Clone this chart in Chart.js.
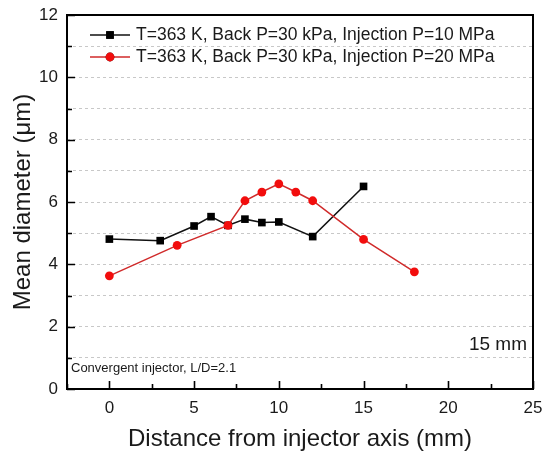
<!DOCTYPE html>
<html>
<head>
<meta charset="utf-8">
<script src="https://cdn.jsdelivr.net/npm/chart.js@4.4.1/dist/chart.umd.min.js"></script>
<style>
  html, body { margin: 0; padding: 0; background: #fff; }
  #wrap { width: 544px; height: 461px; position: relative; }
</style>
</head>
<body>
<div id="wrap"><canvas id="diameterChart"></canvas></div>
<script>
const seriesLabels = [
    'T=363 K, Back P=30 kPa, Injection P=10 MPa',
    'T=363 K, Back P=30 kPa, Injection P=20 MPa'
];
const distance10 = [0, 3, 5, 6, 7, 8, 9, 10, 12, 15];
const diameter10 = [4.81, 4.76, 5.23, 5.53, 5.25, 5.45, 5.34, 5.36, 4.89, 6.50];
const distance20 = [0, 4, 7, 8, 9, 10, 11, 12, 15, 18];
const diameter20 = [3.63, 4.61, 5.25, 6.04, 6.32, 6.58, 6.32, 6.04, 4.80, 3.76];
const xTickLabels = [0, 5, 10, 15, 20, 25];
const yTickLabels = [0, 2, 4, 6, 8, 10, 12];
const noteText = 'Convergent injector, L/D=2.1';
const cornerText = '15 mm';

const FONT = '"Liberation Sans", Arial, sans-serif';
const INK = '#1a1a1a';

function toPoints(xs, ys) {
    return xs.map((x, i) => ({ x: x, y: ys[i] }));
}

// no extra room for overflowing tick labels, the layout padding covers it
function noLabelPadding(s) {
    s.paddingLeft = 0;
    s.paddingRight = 0;
    s.paddingTop = 0;
    s.paddingBottom = 0;
}

// frame, inward ticks, legend and the two notes
const decorations = {
    id: 'decorations',
    afterDraw(chart) {
        const { ctx, chartArea: a } = chart;
        const xs = chart.scales.x, ys = chart.scales.y;
        ctx.save();
        ctx.strokeStyle = '#000';
        ctx.lineWidth = 2;
        ctx.strokeRect(a.left, a.top, a.right - a.left, a.bottom - a.top);

        ctx.lineWidth = 1.6;
        ctx.beginPath();
        for (let v = xs.min; v <= xs.max + 1e-9; v += 2.5) {
            const px = Math.round(xs.getPixelForValue(v)) + 0.5;
            const len = xTickLabels.includes(v) ? 8 : 5;
            ctx.moveTo(px, a.bottom);
            ctx.lineTo(px, a.bottom - len);
        }
        for (let v = ys.min; v <= ys.max; v += 1) {
            const py = Math.round(ys.getPixelForValue(v)) + 0.5;
            const len = yTickLabels.includes(v) ? 8 : 5;
            ctx.moveTo(a.left, py);
            ctx.lineTo(a.left + len, py);
        }
        ctx.stroke();

        // legend inside the plot
        ctx.font = '17.5px ' + FONT;
        ctx.textBaseline = 'middle';
        ctx.fillStyle = INK;
        chart.data.datasets.forEach((ds, i) => {
            const y = a.top + 20 + i * 22;
            const x0 = a.left + 23;
            ctx.strokeStyle = ds.borderColor;
            ctx.lineWidth = 1.5;
            ctx.beginPath();
            ctx.moveTo(x0, y);
            ctx.lineTo(x0 + 40, y);
            ctx.stroke();
            Chart.helpers.drawPoint(ctx, {
                pointStyle: ds.pointStyle,
                radius: ds.pointRadius,
                borderWidth: 0,
                rotation: 0
            }, x0 + 20, y);
            ctx.fillStyle = ds.pointBackgroundColor;
            ctx.fill();
            ctx.fillStyle = INK;
            ctx.textAlign = 'left';
            ctx.fillText(ds.label, x0 + 46, y);
        });

        ctx.font = '13px ' + FONT;
        ctx.textAlign = 'left';
        ctx.fillText(noteText, a.left + 4, a.bottom - 21);
        ctx.font = '19px ' + FONT;
        ctx.textAlign = 'right';
        ctx.fillText(cornerText, a.right - 6, a.bottom - 44);
        ctx.restore();
    }
};

new Chart(document.getElementById('diameterChart').getContext('2d'), {
    type: 'line',
    data: {
        datasets: [{
            label: seriesLabels[0],
            data: toPoints(distance10, diameter10),
            borderColor: '#111',
            borderWidth: 1.5,
            pointStyle: 'rect',
            pointRadius: 5.4,
            pointBackgroundColor: '#000',
            pointBorderWidth: 0,
            order: 1
        }, {
            label: seriesLabels[1],
            data: toPoints(distance20, diameter20),
            borderColor: '#d02a2a',
            borderWidth: 1.5,
            pointStyle: 'circle',
            pointRadius: 4.4,
            pointBackgroundColor: '#f20d0d',
            pointBorderWidth: 0,
            order: 0
        }]
    },
    options: {
        responsive: true,
        maintainAspectRatio: false,
        animation: false,
        events: [],
        layout: { padding: { top: 15, right: 11, left: 0, bottom: 0 } },
        plugins: { legend: { display: false }, tooltip: { enabled: false } },
        scales: {
            x: {
                type: 'linear',
                min: -2.5,
                max: 25,
                afterFit: (s) => { s.height = 72; noLabelPadding(s); },
                grid: { display: false, drawTicks: false },
                border: { display: false },
                ticks: {
                    stepSize: 2.5,
                    padding: 9,
                    color: INK,
                    font: { family: FONT, size: 17 },
                    maxRotation: 0,
                    autoSkip: false,
                    callback: (v) => xTickLabels.includes(v) ? String(v) : ''
                },
                title: {
                    display: true,
                    text: 'Distance from injector axis (mm)',
                    color: INK,
                    font: { family: FONT, size: 24 },
                    padding: { top: 0, bottom: 7 }
                }
            },
            y: {
                min: 0,
                max: 12,
                afterFit: (s) => { s.width = 67; noLabelPadding(s); },
                grid: {
                    drawTicks: false,
                    color: (c) => (c.tick.value > 0 && c.tick.value < 12) ? '#c8c8c8' : 'rgba(0,0,0,0)',
                    lineWidth: 1
                },
                border: { display: false, dash: [3, 3] },
                ticks: {
                    stepSize: 1,
                    padding: 9,
                    color: INK,
                    font: { family: FONT, size: 17 },
                    autoSkip: false,
                    callback: (v) => yTickLabels.includes(v) ? String(v) : ''
                },
                title: {
                    display: true,
                    text: 'Mean diameter (\u03bcm)',
                    color: INK,
                    font: { family: FONT, size: 24 },
                    padding: { top: 9, bottom: 0 }
                }
            }
        }
    },
    plugins: [decorations]
});
</script>
</body>
</html>
